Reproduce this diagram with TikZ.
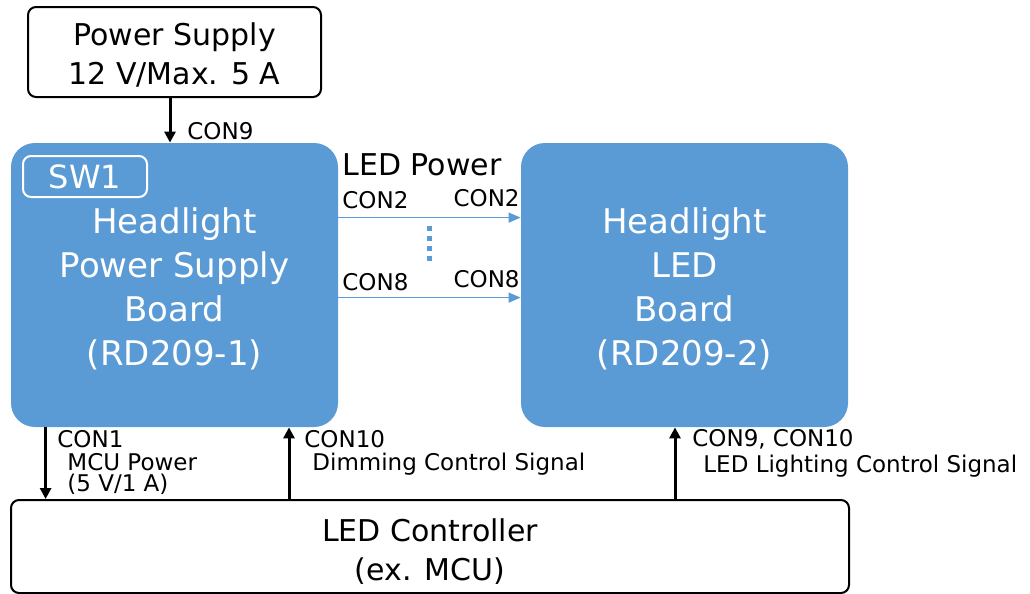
\documentclass[tikz,border=0pt]{standalone}
\usepackage{fontspec}
\setmainfont{DejaVu Sans}
\usetikzlibrary{arrows.meta,positioning,calc}
\definecolor{boardcolor}{RGB}{91,155,213}
\definecolor{bordercolor}{RGB}{0,0,0}
\newcommand{\padtop}[1]{\rule{0pt}{#1}}
\tikzset{
    board/.style={
        rectangle,
        rounded corners=12pt,
        minimum width=163.5pt,
        minimum height=142pt,
        fill=boardcolor,
        text=white,
        align=center,
        font=\fontsize{17}{22}\selectfont
    },
    whitebox/.style={
        rectangle,
        rounded corners=4pt,
        draw=bordercolor,
        line width=1pt,
        fill=white,
        align=center,
        font=\fontsize{15}{19.5}\selectfont
    },
    swbox/.style={rectangle, rounded corners=4pt, draw=white, line width=1pt,
        text=white, minimum width=62pt, minimum height=20.5pt, inner sep=0pt,
        font=\fontsize{16}{19}\selectfont},
    lbl/.style={anchor=west, inner sep=0pt, align=left, font=\fontsize{11.5}{10.5}\selectfont},
    powerarrow/.style={-{Triangle[length=6pt,width=5pt]}, line width=0.75pt, color=boardcolor},
    sigarrow/.style={-{Triangle[length=5.5pt,width=5.5pt]}, line width=1.5pt, color=black}
}

\begin{document}
\begin{tikzpicture}[x=0.5pt, y=-0.5pt]
    \useasboundingbox (0,0) rectangle (1030,594);

    % Supply and boards
    \node[whitebox, minimum width=146.5pt, minimum height=45pt] (psu) at (174.5,52)
          {\padtop{14.4pt}Power Supply\\12 V/Max. 5 A};
    \node[board] (psboard) at (174.5,285)
          {\padtop{17pt}Headlight\\Power Supply\\Board\\(RD209-1)};
    \node[swbox] (sw1) at (85,176.5) {SW1};
    \node[board] (ledboard) at (684.5,285)
          {\padtop{17pt}Headlight\\LED\\Board\\(RD209-2)};

    % Controller
    \node[whitebox, minimum width=419pt, minimum height=46.5pt] (ctrl) at (430,546.5)
          {\padtop{16.5pt}LED Controller\\(ex. MCU)};

    % Arrows
    \draw[sigarrow] ($(psu.south)+(-4.5,0)$) coordinate (c9in) -- (c9in |- psboard.north);
    \draw[powerarrow] ($(psboard.north east)+(0,75)$) coordinate (c2) -- (c2 -| ledboard.west);
    \draw[powerarrow] ($(psboard.north east)+(0,155)$) coordinate (c8) -- (c8 -| ledboard.west);
    \draw[boardcolor, line width=2.5pt, dash pattern=on 2.5pt off 2.5pt]
          ($(c2)+(91,8)$) coordinate (dtop) -- ($(dtop)+(0,36)$);
    \draw[sigarrow] ($(psboard.south west)+(35,0)$) coordinate (c1) -- (c1 |- ctrl.north);
    \draw[sigarrow] ($(ctrl.north west)+(279,0)$) coordinate (c10) -- (c10 |- psboard.south);
    \draw[sigarrow] ($(ctrl.north west)+(665,0)$) coordinate (c9) -- (c9 |- ledboard.south);

    % Labels
    \node[lbl] (con9lbl) at (187,131) {CON9};
    \node[lbl, font=\fontsize{15}{19}\selectfont] (ledpower) at (342,165) {LED Power};
    \node[lbl] (con2a) at (342,200) {CON2};
    \node[lbl, anchor=east] (con2b) at (520,198) {CON2};
    \node[lbl] (con8a) at (342,282) {CON8};
    \node[lbl, anchor=east] (con8b) at (520,279) {CON8};
    \node[lbl] (con1lbl) at (57,439) {CON1};
    \node[lbl] (mculbl) at (67,474) {MCU Power\\(5 V/1 A)};
    \node[lbl] (con10lbl) at (304,439) {CON10};
    \node[lbl] (dimlbl) at (312,464) {Dimming Control Signal};
    \node[lbl] (con910lbl) at (692,439) {CON9, CON10};
    \node[lbl] (lightlbl) at (703,466) {LED Lighting Control Signal};
\end{tikzpicture}
\end{document}
